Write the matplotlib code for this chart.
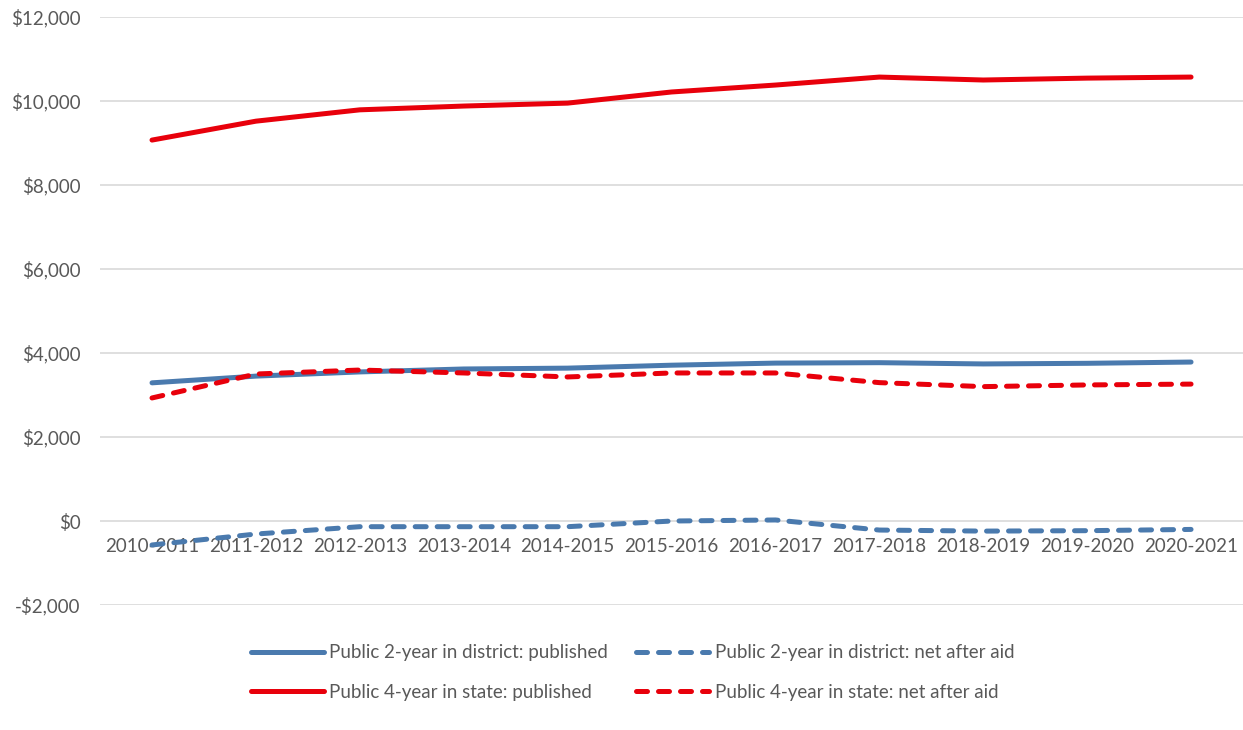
import matplotlib
matplotlib.use("Agg")
import matplotlib.pyplot as plt
from matplotlib.ticker import FuncFormatter

plt.rcParams["font.family"] = ["Lato", "DejaVu Sans"]

years = ["2010-2011", "2011-2012", "2012-2013", "2013-2014", "2014-2015",
         "2015-2016", "2016-2017", "2017-2018", "2018-2019", "2019-2020",
         "2020-2021"]

# tuition and fees, dollars
two_year_published = [3290, 3450, 3550, 3620, 3640, 3710, 3760, 3770, 3740, 3755, 3785]
two_year_net = [-570, -310, -135, -135, -135, 0, 25, -215, -240, -230, -200]
four_year_published = [9070, 9520, 9790, 9880, 9950, 10215, 10380, 10570, 10500, 10545, 10570]
four_year_net = [2930, 3500, 3595, 3525, 3430, 3525, 3525, 3295, 3200, 3240, 3260]

blue = "#4A7AAE"
red = "#E8000B"
text_color = "#595959"

fig = plt.figure(figsize=(12.43, 7.30), dpi=100)
ax = fig.add_axes([0.0805, 0.1712, 0.9195, 0.8055])

x = range(len(years))
lw = 3.6
h1, = ax.plot(x, two_year_published, color=blue, lw=lw, solid_capstyle="round",
              label="Public 2-year in district: published")
h2, = ax.plot(x, two_year_net, color=blue, lw=lw, dashes=(2.2, 2.2),
              dash_capstyle="round", label="Public 2-year in district: net after aid")
h3, = ax.plot(x, four_year_published, color=red, lw=lw, solid_capstyle="round",
              label="Public 4-year in state: published")
h4, = ax.plot(x, four_year_net, color=red, lw=lw, dashes=(2.2, 2.2),
              dash_capstyle="round", label="Public 4-year in state: net after aid")

ax.set_xlim(-0.5, len(years) - 0.5)
ax.set_ylim(-2000, 12000)
ax.set_yticks(range(-2000, 12001, 2000))
ax.yaxis.set_major_formatter(FuncFormatter(
    lambda v, p: f"${v:,.0f}" if v >= 0 else f"-${abs(v):,.0f}"))
ax.grid(axis="y", color="#D9D9D9", lw=1.2)
ax.set_axisbelow(True)

ax.set_xticks(list(x))
ax.set_xticklabels(years)
ax.spines["bottom"].set_position(("data", 0))
for s in ax.spines.values():
    s.set_visible(False)
ax.tick_params(axis="x", length=0, pad=12, labelsize=13.5, labelcolor=text_color)
ax.tick_params(axis="y", length=0, pad=14, labelsize=13.5, labelcolor=text_color)

leg = fig.legend([h1, h3, h2, h4],
                 [h.get_label() for h in (h1, h3, h2, h4)],
                 ncol=2, loc="center", bbox_to_anchor=(0.509, 0.079),
                 frameon=False, fontsize=13.5, handlelength=3.9,
                 columnspacing=1.5, labelspacing=1.2, handletextpad=0.3)
for t in leg.get_texts():
    t.set_color(text_color)

fig.savefig("out.png", dpi=100)
